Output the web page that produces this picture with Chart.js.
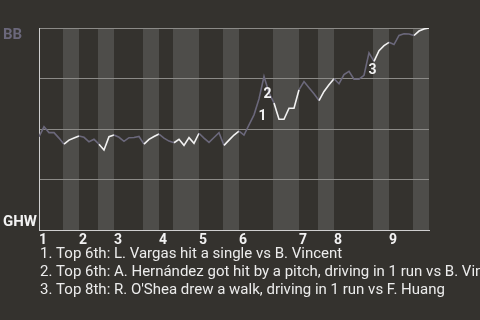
<!DOCTYPE html>
<html>
<head>
<meta charset="utf-8">
<script src="https://cdn.jsdelivr.net/npm/chart.js@4.4.1/dist/chart.umd.min.js"></script>
<style>
  html, body { margin: 0; padding: 0; background: #34322e; }
  #wrap { width: 480px; height: 320px; position: relative; }
</style>
</head>
<body>
<div id="wrap"><canvas id="wp" width="480" height="320"></canvas></div>
<script>
// Teams: away (top of chart) and home (bottom of chart)
const awayTeam = 'BB';
const homeTeam = 'GHW';

// BB win probability (%) after each plate appearance
const winProb = [
  46.2, 51.1, 48.2, 48.2, 45.5, 42.5, 44.5, 45.5, 46.5, 45.9,
  43.7, 44.9, 42.5, 39.6, 46.2, 47.0, 45.9, 43.9, 45.7, 45.8,
  46.3, 42.5, 44.9, 46.3, 47.5, 45.5, 44.0, 43.2, 44.9, 41.9,
  45.7, 42.9, 47.9, 45.5, 43.4, 45.8, 48.2, 41.9, 44.5, 47.0,
  48.9, 47.0, 52.0, 57.0, 64.9, 76.0, 67.9, 62.9, 54.8, 54.8,
  60.3, 60.3, 69.4, 73.5, 70.4, 67.4, 64.1, 68.6, 71.9, 74.9,
  72.4, 76.9, 78.5, 74.7, 74.7, 76.6, 87.7, 83.5, 88.8, 91.3,
  92.9, 91.8, 96.3, 97.1, 97.0, 96.3, 98.5, 99.5, 100.0
];

// Plate-appearance index where each inning starts, and its label
const inningStarts = [0, 8, 15, 24, 32, 40, 52, 59, 70];
const inningLabels = ['1', '2', '3', '4', '5', '6', '7', '8', '9'];

// Bottom halves of innings: [first PA index, last PA index]
const bottomHalves = [
  [5, 8], [12, 15], [21, 24], [27, 32], [37, 40],
  [47, 52], [56, 59], [67, 70], [75, 78]
];

// Key plays: PA index and description
const keyPlays = [44, 45, 66];
const keyPlayNotes = [
  'Top 6th: L. Vargas hit a single vs B. Vincent',
  'Top 6th: A. Hernández got hit by a pitch, driving in 1 run vs B. Vincent',
  "Top 8th: R. O'Shea drew a walk, driving in 1 run vs F. Huang"
];

const plays = winProb.map((_, i) => i);

const BG = '#34322e';
const BAND = '#4e4d4a';
const GRID = '#8b8a87';
const AXIS = '#cfcfcf';
const AWAY_COLOR = '#6b687b';
const HOME_COLOR = '#f2f2f2';
const TEXT = '#ececec';
const FONT = 'Roboto, "Noto Sans", sans-serif';

const inBottomHalf = i => bottomHalves.some(([a, b]) => i >= a && i < b);

const overlay = {
  id: 'overlay',
  beforeDraw(chart) {
    const { ctx, chartArea: { top, bottom }, scales: { x } } = chart;
    ctx.save();
    ctx.fillStyle = BG;
    ctx.fillRect(0, 0, chart.width, chart.height);
    ctx.fillStyle = BAND;
    bottomHalves.forEach(([a, b]) => {
      const xa = Math.round(x.getPixelForValue(a)) - 1;
      const xb = Math.round(x.getPixelForValue(b));
      ctx.fillRect(xa, top, xb - xa, bottom - top);
    });
    ctx.restore();
  },
  afterDatasetsDraw(chart) {
    const { ctx, scales: { x, y } } = chart;
    ctx.save();
    ctx.fillStyle = HOME_COLOR;
    ctx.font = 'bold 14px ' + FONT;
    ctx.textAlign = 'center';
    ctx.textBaseline = 'middle';
    keyPlays.forEach((idx, n) => {
      const px = x.getPixelForValue(idx);
      const py = y.getPixelForValue(winProb[idx]);
      ctx.fillText(String(n + 1), px + 3.5, py + 18);
    });
    ctx.restore();
  },
  afterDraw(chart) {
    const { ctx, chartArea: { left, top, bottom } } = chart;
    ctx.save();
    ctx.font = 'bold 15px ' + FONT;
    ctx.textAlign = 'left';
    ctx.textBaseline = 'alphabetic';
    ctx.fillStyle = AWAY_COLOR;
    ctx.fillText(awayTeam, 3, top + 11);
    ctx.fillStyle = HOME_COLOR;
    ctx.fillText(homeTeam, 3, bottom - 4.5);

    ctx.font = '15px ' + FONT;
    ctx.fillStyle = TEXT;
    keyPlayNotes.forEach((note, n) => {
      ctx.fillText((n + 1) + '. ' + note, left + 1, bottom + 28 + n * 18);
    });
    ctx.restore();
  }
};

new Chart(document.getElementById('wp'), {
  type: 'line',
  data: {
    labels: plays,
    datasets: [{
      data: winProb,
      borderWidth: 1.6,
      pointRadius: 0,
      pointHoverRadius: 0,
      tension: 0,
      fill: false,
      borderColor: AWAY_COLOR,
      segment: {
        borderColor: ctx => inBottomHalf(ctx.p0DataIndex) ? HOME_COLOR : AWAY_COLOR
      }
    }]
  },
  options: {
    responsive: false,
    animation: false,
    events: [],
    layout: { padding: { top: 28, right: 51, bottom: 70, left: 39 } },
    plugins: {
      legend: { display: false },
      tooltip: { enabled: false },
      title: { display: false }
    },
    scales: {
      x: {
        type: 'linear',
        min: 0,
        max: plays.length - 1,
        grid: { display: false, drawTicks: false },
        border: { display: true, color: AXIS, width: 1 },
        afterFit(scale) { scale.height = 20; },
        afterBuildTicks(scale) {
          scale.ticks = inningStarts.map(v => ({ value: v }));
        },
        ticks: {
          align: 'start',
          padding: 2,
          color: HOME_COLOR,
          font: { family: FONT, size: 14, weight: 'bold' },
          maxRotation: 0,
          autoSkip: false,
          callback(value) {
            const i = inningStarts.indexOf(value);
            return i >= 0 ? inningLabels[i] : '';
          }
        }
      },
      y: {
        min: 0,
        max: 100,
        grid: { color: GRID, lineWidth: 1, drawTicks: false },
        border: { display: true, color: AXIS, width: 1 },
        afterFit(scale) { scale.width = 0; },
        ticks: { display: false, stepSize: 25 }
      }
    }
  },
  plugins: [overlay]
});
</script>
</body>
</html>
